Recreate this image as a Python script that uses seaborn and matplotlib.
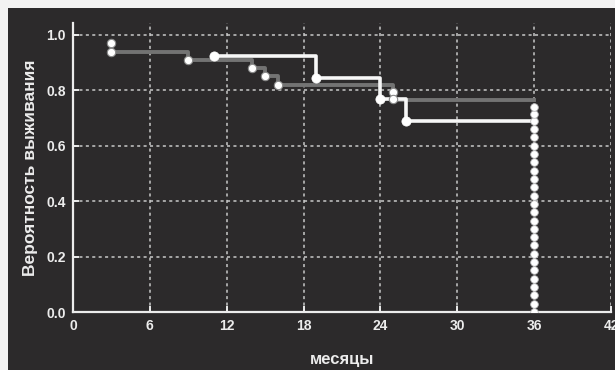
import seaborn as sns
import pandas as pd
import matplotlib.pyplot as plt
from matplotlib.patches import Rectangle

# gray curve (group 1)
gray_t = [3, 9, 14, 15, 16, 25, 36]
gray_s = [0.94, 0.91, 0.88, 0.85, 0.82, 0.765, 0.765]
gray_pt_t = [3, 3, 9, 14, 15, 16, 25, 25]
gray_pt_s = [0.97, 0.94, 0.91, 0.88, 0.85, 0.82, 0.795, 0.77]

# white curve (group 2)
white_t = [11, 19, 24, 26, 36]
white_s = [0.925, 0.845, 0.77, 0.69, 0.69]
white_pt_t = [11, 19, 24, 26]
white_pt_s = [0.925, 0.845, 0.77, 0.69]

# censored at 36 months
cens_s = [0.0, 0.03, 0.06, 0.09, 0.12, 0.15, 0.18, 0.21, 0.24, 0.27, 0.30, 0.33, 0.36,
          0.39, 0.42, 0.45, 0.48, 0.51, 0.54, 0.57, 0.60, 0.63, 0.66, 0.69, 0.715, 0.74]
cens_t = [36] * len(cens_s)

xticks = [0, 6, 12, 18, 24, 30, 36, 42]
yticks = [0.0, 0.2, 0.4, 0.6, 0.8, 1.0]

bg = "#2c2a2b"
fg = "#ececec"

plt.rcParams['font.family'] = ['Liberation Sans', 'DejaVu Sans']
fig = plt.figure(figsize=(6.15, 3.7), dpi=100, facecolor="#f2f2f2")
fig.patches.append(Rectangle((8 / 615, 0), 1, 1 - 8 / 370, transform=fig.transFigure,
                             facecolor=bg, edgecolor="none", zorder=-5))
ax = fig.add_axes([73 / 615, 1 - 312 / 370, 538 / 615, 289 / 370])
ax.set_facecolor(bg)

g = pd.DataFrame({"t": gray_t, "s": gray_s})
w = pd.DataFrame({"t": white_t, "s": white_s})
sns.lineplot(data=g, x="t", y="s", drawstyle="steps-post", color="#737373", lw=2.8, ax=ax, zorder=3)
sns.lineplot(data=w, x="t", y="s", drawstyle="steps-post", color="#f7f7f7", lw=2.6, ax=ax, zorder=4)

sns.scatterplot(x=gray_pt_t, y=gray_pt_s, color="white", edgecolor="#8a8a8a", linewidth=0.8,
                s=36, ax=ax, zorder=5)
sns.scatterplot(x=white_pt_t, y=white_pt_s, color="white", edgecolor="white", s=44, ax=ax, zorder=5)
sns.scatterplot(x=cens_t, y=cens_s, color="white", edgecolor="#bbbbbb", linewidth=0.6,
                s=30, ax=ax, zorder=6)

ax.set_xlim(0, 42)
ax.set_ylim(0, 1.043)
ax.set_xticks(xticks)
ax.set_yticks(yticks)
ax.set_yticklabels(["%.1f" % v for v in yticks])
ax.grid(True, color="#c8c8c8", linestyle=(0, (2, 2.2)), lw=1.1)
ax.set_axisbelow(True)
for side in ["top", "right"]:
    ax.spines[side].set_visible(False)
for side in ["left", "bottom"]:
    ax.spines[side].set_color(fg)
    ax.spines[side].set_linewidth(1.6)
ax.tick_params(colors=fg, direction="in", length=4, width=1.4, labelsize=10, pad=5)
for lab in ax.get_xticklabels() + ax.get_yticklabels():
    lab.set_fontweight("bold")
ax.set_xlabel("месяцы", color=fg, fontsize=12, fontweight="bold", labelpad=14)
ax.set_ylabel("Вероятность выживания", color=fg, fontsize=12.5, fontweight="bold", labelpad=6)

fig.savefig("out.png", dpi=100, facecolor=fig.get_facecolor())
